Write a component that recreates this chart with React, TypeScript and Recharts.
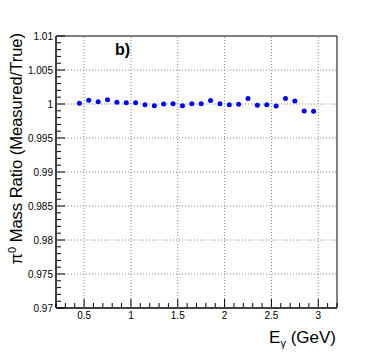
import {
    ScatterChart,
    Scatter,
    XAxis,
    YAxis,
    ReferenceLine,
    ReferenceArea,
} from "recharts";

const energies = [
    0.45, 0.55, 0.65, 0.75, 0.85, 0.95, 1.05, 1.15, 1.25, 1.35, 1.45, 1.55, 1.65,
    1.75, 1.85, 1.95, 2.05, 2.15, 2.25, 2.35, 2.45, 2.55, 2.65, 2.75, 2.85, 2.95,
];

const massRatio = [
    1.0001, 1.00054, 1.00034, 1.00064, 1.00025, 1.0002, 1.0002, 0.9999, 0.99975,
    1.0, 1.00005, 0.99975, 1.00005, 1.00005, 1.0005, 1.00005, 0.9999, 0.99995,
    1.0008, 0.9998, 0.9999, 0.9997, 1.0008, 1.00045, 0.99897, 0.99892,
];

const xMajor = [0.5, 1, 1.5, 2, 2.5, 3];
const xMajorLabels = ["0.5", "1", "1.5", "2", "2.5", "3"];
const yMajor = [0.97, 0.975, 0.98, 0.985, 0.99, 0.995, 1, 1.005, 1.01];
const yMajorLabels = ["0.97", "0.975", "0.98", "0.985", "0.99", "0.995", "1", "1.005", "1.01"];

const X_DOMAIN: [number, number] = [0.2, 3.2];
const Y_DOMAIN: [number, number] = [0.97, 1.01];

// minor tick grid (axis decoration only)
function steps(from: number, to: number, step: number, digits: number) {
    const out: number[] = [];
    const n = Math.round((to - from) / step);
    for (let i = 0; i <= n; i++) {
        out.push(Number((from + i * step).toFixed(digits)));
    }
    return out;
}
const xTicks = steps(0.2, 3.2, 0.1, 2);
const yTicks = steps(0.97, 1.01, 0.001, 4);

const data = energies.map((e, i) => ({ e, r: massRatio[i] }));

const FONT = "'Liberation Sans', Arial, Helvetica, sans-serif";

function findMajor(list: number[], v: number) {
    return list.findIndex((m) => Math.abs(m - v) < 1e-6);
}

const renderXTick = (props: any) => {
    const { x, y, payload } = props;
    const idx = findMajor(xMajor, payload.value);
    const len = idx >= 0 ? 8 : 4;
    const y0 = y - 1;
    return (
        <g>
            <line x1={x} y1={y0} x2={x} y2={y0 - len} stroke="#000" strokeWidth={1} />
            {idx >= 0 && (
                <text x={x} y={y0 + 12} textAnchor="middle" fontSize={10} fontFamily={FONT} fill="#000">
                    {xMajorLabels[idx]}
                </text>
            )}
        </g>
    );
};

const renderYTick = (props: any) => {
    const { x, y, payload } = props;
    const idx = findMajor(yMajor, payload.value);
    const len = idx >= 0 ? 8 : 4;
    const x0 = x + 1;
    return (
        <g>
            <line x1={x0} y1={y} x2={x0 + len} y2={y} stroke="#000" strokeWidth={1} />
            {idx >= 0 && (
                <text x={x0 - 4} y={y + 3.5} textAnchor="end" fontSize={10} fontFamily={FONT} fill="#000">
                    {yMajorLabels[idx]}
                </text>
            )}
        </g>
    );
};

function Dot(props: any) {
    return <circle cx={props.cx} cy={props.cy} r={2.5} fill="#0000ff" />;
}

export default function App() {
    return (
        <div style={{ position: "absolute", left: 0, top: 0, width: 374, height: 363, background: "#fff" }}>
            <ScatterChart
                width={374}
                height={363}
                margin={{ top: 36, right: 37, bottom: 54, left: 55 }}
            >
                <XAxis
                    type="number"
                    dataKey="e"
                    domain={X_DOMAIN}
                    ticks={xTicks}
                    interval={0}
                    height={1}
                    tickSize={0}
                    tickMargin={0}
                    tickLine={false}
                    allowDataOverflow
                    axisLine={{ stroke: "#000", strokeWidth: 1 }}
                    tick={renderXTick}
                />
                <YAxis
                    type="number"
                    dataKey="r"
                    domain={Y_DOMAIN}
                    ticks={yTicks}
                    interval={0}
                    width={1}
                    tickSize={0}
                    tickMargin={0}
                    tickLine={false}
                    allowDataOverflow
                    axisLine={{ stroke: "#000", strokeWidth: 1 }}
                    tick={renderYTick}
                />
                {xMajor.map((v) => (
                    <ReferenceLine key={"gx" + v} x={v} stroke="#888" strokeDasharray="1 2" />
                ))}
                {yMajor.slice(1, -1).map((v) => (
                    <ReferenceLine key={"gy" + v} y={v} stroke="#888" strokeDasharray="1 2" />
                ))}
                <ReferenceArea
                    x1={X_DOMAIN[0]}
                    x2={X_DOMAIN[1]}
                    y1={Y_DOMAIN[0]}
                    y2={Y_DOMAIN[1]}
                    fill="none"
                    stroke="#000"
                    strokeWidth={1}
                />
                <Scatter data={data} shape={<Dot />} isAnimationActive={false} />
                <text x={115} y={55} fontSize={16} fontWeight="bold" fontFamily={FONT} fill="#000">
                    b)
                </text>
                <text
                    x={22}
                    y={33}
                    transform="rotate(-90 22 33)"
                    textAnchor="end"
                    fontSize={16.5}
                    fontFamily={FONT}
                    fill="#000"
                >
                    π<tspan dy={-6} fontSize={11}>0</tspan>
                    <tspan dy={6}> Mass Ratio (Measured/True)</tspan>
                </text>
                <text x={336} y={343} textAnchor="end" fontSize={17} fontFamily={FONT} fill="#000">
                    E<tspan dy={4} fontSize={11}>γ</tspan>
                    <tspan dy={-4}> (GeV)</tspan>
                </text>
            </ScatterChart>
        </div>
    );
}
